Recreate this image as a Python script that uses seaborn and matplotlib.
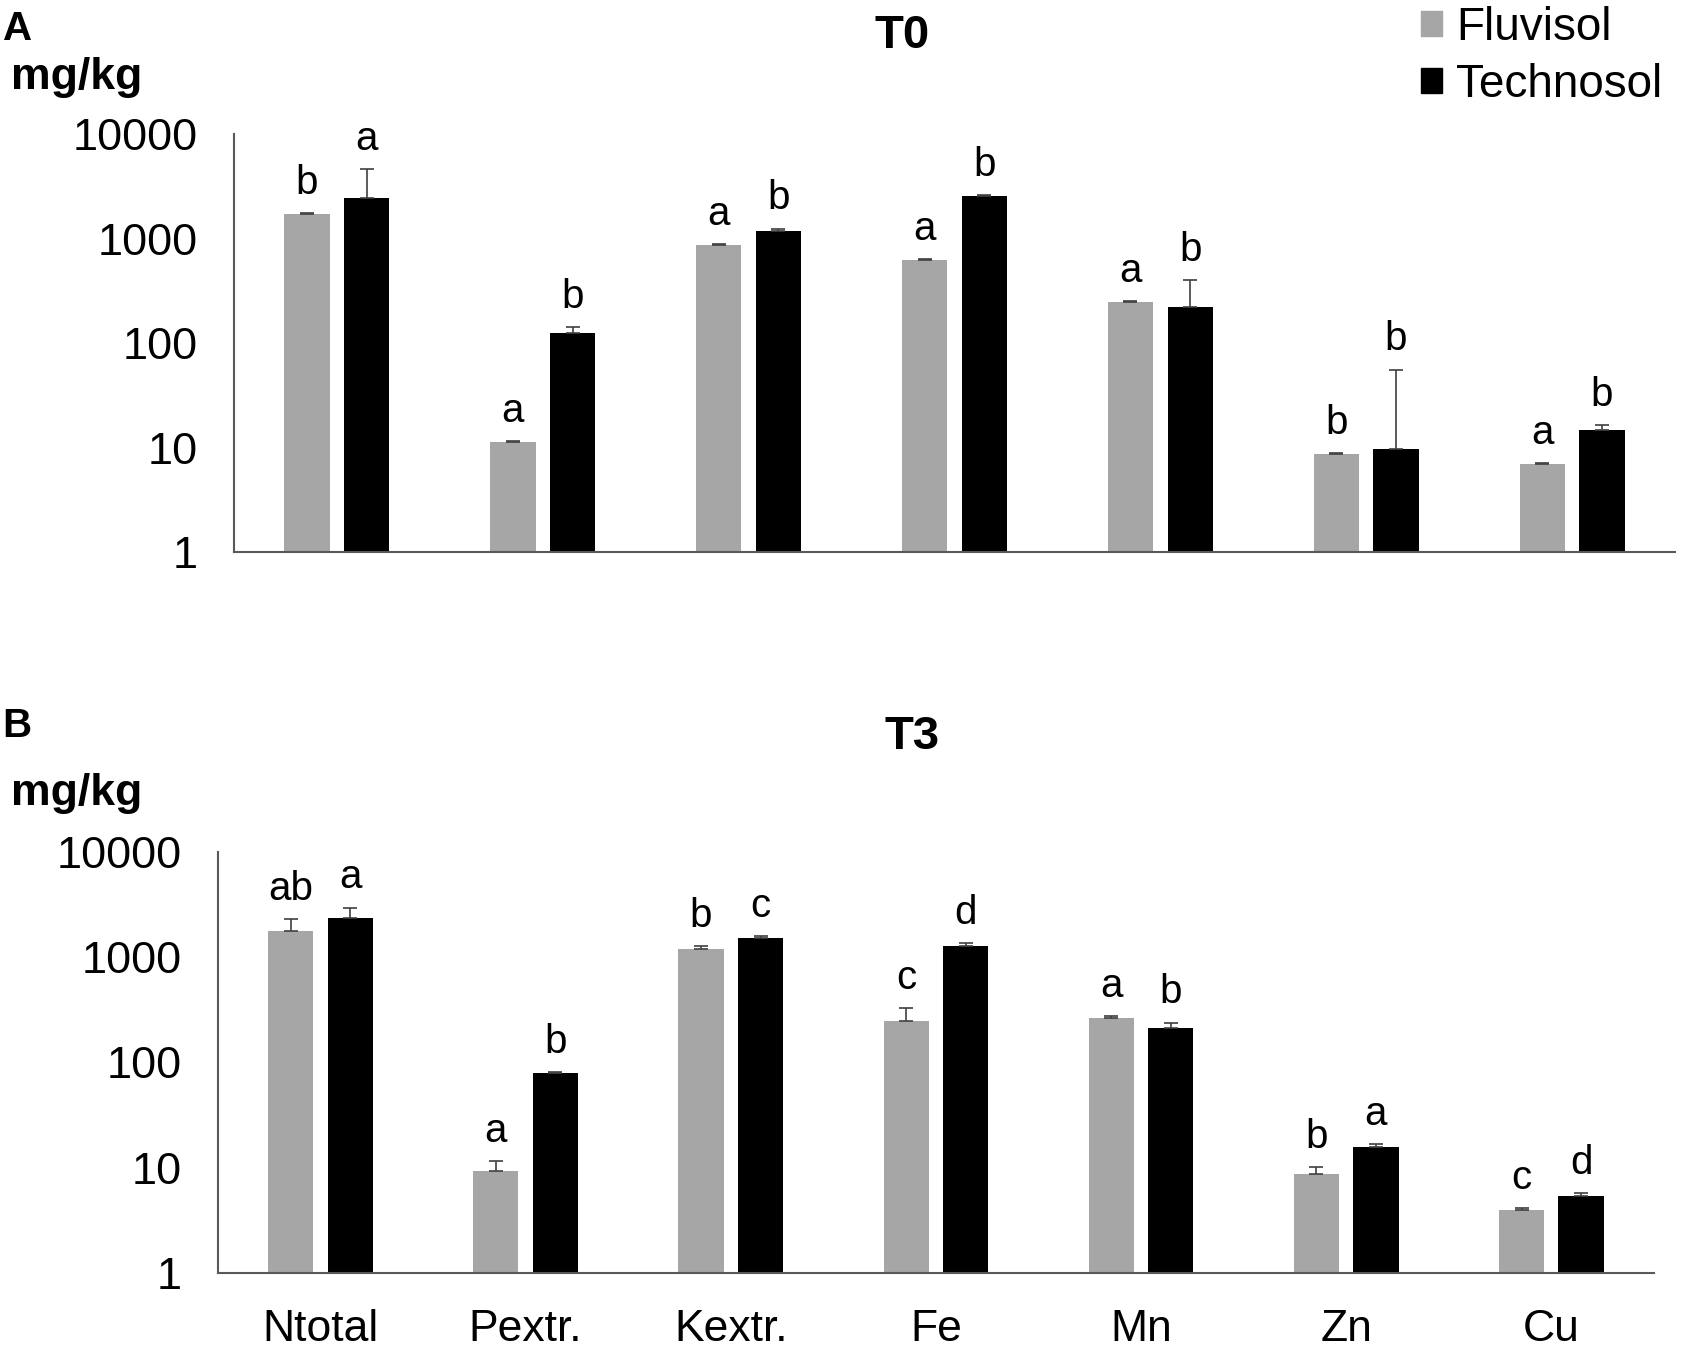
import matplotlib
matplotlib.use("Agg")
import matplotlib.pyplot as plt
import matplotlib.patches as mpatches
import seaborn as sns
import pandas as pd
import numpy as np

categories = ["Ntotal", "Pextr.", "Kextr.", "Fe", "Mn", "Zn", "Cu"]
soils = ["Fluvisol", "Technosol"]

t0_fluv = [1700, 11.2, 860, 625, 247, 8.65, 6.9]
t0_fluv_sd = [60, 0.3, 20, 15, 5, 0.25, 0.15]
t0_tech = [2430, 124, 1186, 2550, 220, 9.7, 14.8]
t0_tech_sd = [2170, 18, 60, 50, 180, 46, 1.5]
t0_fluv_letters = ["b", "a", "a", "a", "a", "b", "a"]
t0_tech_letters = ["a", "b", "b", "b", "b", "b", "b"]

t3_fluv = [1750, 9.2, 1196, 244, 263, 8.75, 4.0]
t3_fluv_sd = [530, 2.4, 80, 80, 14, 1.45, 0.1]
t3_tech = [2320, 79.4, 1514, 1274, 211, 15.8, 5.36]
t3_tech_sd = [620, 1.4, 57, 82, 27, 0.9, 0.35]
t3_fluv_letters = ["ab", "a", "b", "c", "a", "b", "c"]
t3_tech_letters = ["a", "b", "c", "d", "b", "a", "d"]

yticks = [1, 10, 100, 1000, 10000]
ytick_labels = ["1", "10", "100", "1000", "10000"]

palette = {"Fluvisol": "#A6A6A6", "Technosol": "#000000"}

sns.set_style("white")
plt.rcParams["font.family"] = ["Liberation Sans", "DejaVu Sans"]
plt.rcParams["text.color"] = "black"
plt.rcParams["xtick.color"] = "black"
plt.rcParams["ytick.color"] = "black"
plt.rcParams["axes.labelcolor"] = "black"

fig = plt.figure(figsize=(16.88, 13.51), dpi=100)
axA = fig.add_axes([0.1386, 0.5914, 0.8537, 0.3094])
axB = fig.add_axes([0.1291, 0.0577, 0.8507, 0.3120])


def draw(ax, fluv, fluv_sd, tech, tech_sd, fl_letters, te_letters, show_x):
    df = pd.DataFrame({
        "cat": categories * 2,
        "soil": ["Fluvisol"] * len(categories) + ["Technosol"] * len(categories),
        "val": list(fluv) + list(tech),
    })
    sns.barplot(data=df, x="cat", y="val", hue="soil", hue_order=soils,
                order=categories, palette=palette, errorbar=None,
                width=0.58, gap=0.24, linewidth=0, edgecolor="none",
                saturation=1, ax=ax)
    ax.set_yscale("log")
    ax.set_ylim(1, 10000)
    ax.set_xlim(-0.5, len(categories) - 0.5)
    for cont, vals, sds, letters in zip(ax.containers, [fluv, tech],
                                        [fluv_sd, tech_sd],
                                        [fl_letters, te_letters]):
        xs = [p.get_x() + p.get_width() / 2 for p in cont.patches]
        vals = np.array(vals, dtype=float)
        sds = np.array(sds, dtype=float)
        ax.errorbar(xs, vals, yerr=[np.zeros_like(sds), sds], fmt="none",
                    ecolor="#404040", elinewidth=1.2, capsize=5,
                    capthick=1.2, zorder=3)
        for x, v, s, lt in zip(xs, vals, sds, letters):
            ax.annotate(lt, xy=(x, v + s), xytext=(0, 8),
                        textcoords="offset points", ha="center",
                        va="bottom", fontsize=29, color="black")
    leg = ax.get_legend()
    if leg is not None:
        leg.remove()
    ax.set_xlabel("")
    ax.set_ylabel("")
    ax.set_yticks(yticks)
    ax.set_yticklabels(ytick_labels)
    ax.minorticks_off()
    ax.tick_params(axis="y", length=0, pad=26, labelsize=32.5,
                   labelcolor="black")
    if show_x:
        ax.tick_params(axis="x", length=0, pad=26, labelsize=32,
                       labelcolor="black")
    else:
        ax.tick_params(axis="x", length=0, labelbottom=False)
    for side in ["top", "right"]:
        ax.spines[side].set_visible(False)
    for side in ["left", "bottom"]:
        ax.spines[side].set_color("#595959")
        ax.spines[side].set_linewidth(1.5)


draw(axA, t0_fluv, t0_fluv_sd, t0_tech, t0_tech_sd, t0_fluv_letters,
     t0_tech_letters, False)
draw(axB, t3_fluv, t3_fluv_sd, t3_tech, t3_tech_sd, t3_fluv_letters,
     t3_tech_letters, True)

# legend
handles = [mpatches.Patch(color=palette[s], label=s) for s in soils]
fig.legend(handles=handles, labels=soils, loc="upper left",
           bbox_to_anchor=(1421 / 1688, 1 - 6 / 1351), frameon=False,
           fontsize=33, handlelength=0.46, handleheight=0.46,
           handletextpad=0.3, labelspacing=0.28, borderpad=0,
           borderaxespad=0)

W, H = 1688, 1351
fig.text(3 / W, 1 - 29 / H, "A", fontsize=29, fontweight="bold",
         ha="left", va="center")
fig.text(2 / W, 1 - 726 / H, "B", fontsize=29, fontweight="bold",
         ha="left", va="center")
fig.text(11 / W, 1 - 77 / H, "mg/kg", fontsize=32, fontweight="bold",
         ha="left", va="center")
fig.text(11 / W, 1 - 794 / H, "mg/kg", fontsize=32, fontweight="bold",
         ha="left", va="center")
fig.text(902 / W, 1 - 36 / H, "T0", fontsize=34, fontweight="bold",
         ha="center", va="center")
fig.text(912 / W, 1 - 737 / H, "T3", fontsize=34, fontweight="bold",
         ha="center", va="center")

fig.savefig("out.png", dpi=100)
